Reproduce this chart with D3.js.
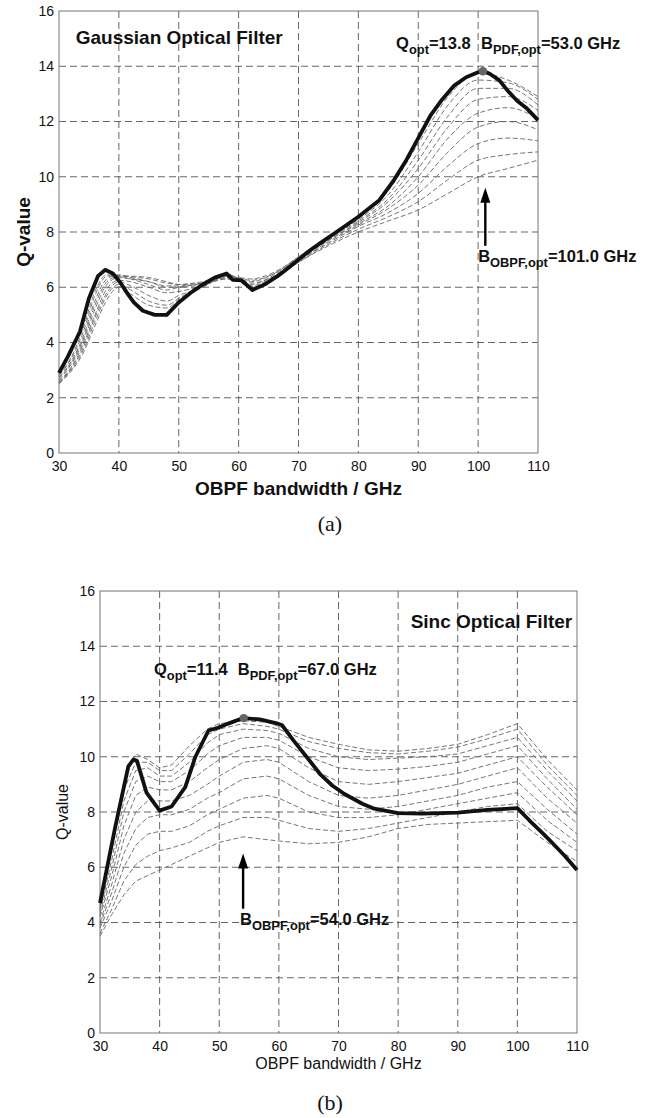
<!DOCTYPE html>
<html>
<head>
<meta charset="utf-8">
<script src="https://cdn.jsdelivr.net/npm/d3@7"></script>
<style>
  body { margin: 0; background: #fff; }
  svg { display: block; }
  text { font-family: "Liberation Sans", Arial, Helvetica, sans-serif; fill: #111; }
</style>
</head>
<body>
<div id="chart"></div>
<script>
const xTicks = [30, 40, 50, 60, 70, 80, 90, 100, 110];
const yTicks = [0, 2, 4, 6, 8, 10, 12, 14, 16];

// (a) Gaussian filter - optimum curve
const gaussBestX = [30, 31.5, 33.5, 35, 36.5, 37.7, 39, 40.2, 41.5, 42.5, 44, 46, 48, 50, 52, 54, 56, 58, 59, 60.5, 62.3, 64.5, 66.5, 68, 70, 72, 74, 77, 80, 83.5, 86, 88, 90, 92, 94, 96, 98, 100, 101, 102, 103.5, 105, 106.5, 108, 110];
const gaussBestQ = [2.9, 3.5, 4.4, 5.6, 6.4, 6.63, 6.5, 6.18, 5.75, 5.45, 5.15, 5.0, 5.0, 5.45, 5.8, 6.1, 6.35, 6.5, 6.27, 6.25, 5.9, 6.12, 6.4, 6.65, 7.0, 7.35, 7.65, 8.1, 8.55, 9.15, 9.9, 10.6, 11.4, 12.2, 12.8, 13.3, 13.6, 13.78, 13.82, 13.72, 13.5, 13.1, 12.75, 12.5, 12.05];

// (a) Gaussian filter - other PDF bandwidths
const gaussGridX = [30, 32, 34, 36, 38, 40, 42, 45, 48, 50, 54, 58, 60, 62, 66, 70, 75, 80, 85, 90, 95, 100, 105, 110];
const gaussRuns = [
  [2.85, 3.45, 4.5, 5.85, 6.45, 6.4, 6.3, 6.1, 5.9, 6.0, 6.15, 6.45, 6.35, 6.25, 6.5, 7.1, 7.85, 8.5, 9.5, 11.2, 12.9, 13.75, 13.5, 12.9],
  [2.8, 3.4, 4.35, 5.7, 6.4, 6.42, 6.35, 6.2, 6.05, 6.05, 6.15, 6.4, 6.35, 6.3, 6.55, 7.1, 7.8, 8.45, 9.35, 10.9, 12.6, 13.5, 13.4, 12.8],
  [2.75, 3.3, 4.2, 5.5, 6.3, 6.45, 6.38, 6.3, 6.15, 6.1, 6.2, 6.35, 6.3, 6.2, 6.5, 7.05, 7.75, 8.4, 9.2, 10.6, 12.2, 13.2, 13.2, 12.6],
  [2.7, 3.25, 4.1, 5.35, 6.2, 6.4, 6.4, 6.35, 6.2, 6.1, 6.15, 6.3, 6.25, 6.1, 6.45, 7.0, 7.7, 8.35, 9.1, 10.3, 11.8, 12.8, 12.9, 12.4],
  [2.65, 3.2, 4.0, 5.2, 6.1, 6.35, 6.3, 6.2, 6.0, 6.0, 6.1, 6.3, 6.3, 6.15, 6.4, 7.0, 7.7, 8.3, 8.95, 10.0, 11.4, 12.3, 12.5, 12.1],
  [2.6, 3.1, 3.9, 5.0, 5.95, 6.25, 6.2, 6.0, 5.8, 5.85, 6.05, 6.35, 6.3, 6.05, 6.4, 6.95, 7.65, 8.25, 8.85, 9.7, 10.9, 11.8, 12.0, 11.7],
  [2.55, 3.05, 3.8, 4.9, 5.8, 6.2, 6.05, 5.7, 5.5, 5.7, 6.0, 6.4, 6.3, 6.0, 6.35, 6.95, 7.6, 8.2, 8.7, 9.4, 10.4, 11.2, 11.4, 11.3],
  [2.55, 3.0, 3.7, 4.75, 5.7, 6.1, 5.9, 5.5, 5.35, 5.6, 6.05, 6.45, 6.3, 6.0, 6.3, 6.9, 7.55, 8.1, 8.55, 9.1, 9.9, 10.6, 10.8, 10.9],
  [2.5, 2.95, 3.6, 4.6, 5.55, 6.0, 5.75, 5.35, 5.25, 5.55, 6.0, 6.5, 6.25, 5.95, 6.3, 6.9, 7.5, 8.0, 8.4, 8.8, 9.4, 10.0, 10.3, 10.6]
];

// (b) Sinc filter - optimum curve
const sincBestX = [30, 32.5, 34.75, 35.6, 36.2, 37.8, 40, 42, 44.3, 46, 48.2, 49.8, 51.5, 54, 56.8, 59.5, 60.5, 62.4, 65, 67, 69, 71, 74, 76, 80, 84, 90, 95, 100, 102, 104.4, 106, 108, 110];
const sincBestQ = [4.7, 7.4, 9.65, 9.9, 9.85, 8.7, 8.05, 8.2, 8.9, 10.0, 10.95, 11.05, 11.2, 11.4, 11.35, 11.22, 11.15, 10.6, 9.9, 9.35, 8.95, 8.65, 8.3, 8.12, 7.96, 7.94, 7.98, 8.08, 8.14, 7.7, 7.2, 6.85, 6.4, 5.9];

// (b) Sinc filter - other PDF bandwidths
const sincGridX = [30, 32, 34, 36, 38, 40, 42, 45, 48, 50, 54, 58, 60, 65, 70, 75, 80, 85, 90, 95, 100, 105, 110];
const sincRuns = [
  [4.6, 7.0, 9.1, 10.1, 9.9, 9.6, 9.7, 10.4, 11.0, 11.2, 11.3, 11.25, 11.1, 10.7, 10.45, 10.25, 10.2, 10.3, 10.45, 10.8, 11.2, 9.9, 8.8],
  [4.5, 6.7, 8.8, 9.8, 9.8, 9.5, 9.5, 10.1, 10.8, 11.0, 11.2, 11.1, 11.0, 10.55, 10.3, 10.15, 10.1, 10.2, 10.35, 10.65, 11.0, 9.7, 8.6],
  [4.4, 6.3, 8.4, 9.5, 9.6, 9.3, 9.3, 9.8, 10.5, 10.8, 11.0, 10.95, 10.85, 10.3, 10.0, 9.9, 9.95, 10.0, 10.1, 10.4, 10.7, 9.5, 8.4],
  [4.3, 6.0, 8.0, 9.1, 9.3, 9.1, 9.1, 9.5, 10.1, 10.4, 10.7, 10.7, 10.6, 10.0, 9.6, 9.5, 9.55, 9.65, 9.8, 10.1, 10.4, 9.2, 8.1],
  [4.2, 5.7, 7.5, 8.6, 8.9, 8.8, 8.8, 9.1, 9.6, 9.9, 10.3, 10.4, 10.3, 9.6, 9.1, 9.0, 9.1, 9.25, 9.4, 9.7, 10.0, 8.9, 7.9],
  [4.0, 5.4, 7.0, 8.0, 8.4, 8.4, 8.4, 8.6, 9.0, 9.3, 9.8, 9.9, 9.8, 9.1, 8.6, 8.5, 8.6, 8.8, 9.0, 9.3, 9.6, 8.5, 7.6],
  [3.9, 5.1, 6.5, 7.4, 7.8, 7.9, 7.9, 8.1, 8.5, 8.7, 9.2, 9.3, 9.2, 8.6, 8.2, 8.1, 8.2, 8.4, 8.6, 8.9, 9.1, 8.1, 7.2],
  [3.8, 4.8, 6.0, 6.8, 7.2, 7.3, 7.3, 7.5, 7.9, 8.1, 8.5, 8.6, 8.5, 8.0, 7.8, 7.8, 7.9, 8.1, 8.3, 8.5, 8.7, 7.7, 6.9],
  [3.6, 4.5, 5.5, 6.1, 6.4, 6.6, 6.7, 6.9, 7.3, 7.5, 7.8, 7.8, 7.7, 7.4, 7.3, 7.4, 7.6, 7.8, 8.0, 8.2, 8.3, 7.3, 6.6],
  [3.5, 4.3, 5.0, 5.5, 5.7, 5.9, 6.1, 6.4, 6.7, 6.9, 7.1, 7.0, 6.95, 6.85, 6.9, 7.1, 7.4, 7.55, 7.6, 7.65, 7.7, 6.9, 6.2]
];

const W = 656, H = 1118;
const svg = d3.select('#chart').append('svg')
  .attr('width', W)
  .attr('height', H)
  .attr('viewBox', `0 0 ${W} ${H}`);

// writes a label made of normal and subscript pieces
function subText(g, x, y, size, weight, parts, anchor) {
  const t = g.append('text')
    .attr('x', x).attr('y', y)
    .attr('font-size', size)
    .attr('font-weight', weight)
    .attr('text-anchor', anchor || 'start')
    .style('white-space', 'pre');
  let shift = 0;
  parts.forEach(([str, sub]) => {
    const want = sub ? 5 : 0;
    t.append('tspan')
      .attr('dy', want - shift)
      .attr('font-size', sub ? size * 0.78 : size)
      .text(str);
    shift = want;
  });
  return t;
}

function drawPanel(p) {
  const x = d3.scaleLinear().domain([30, 110]).range([p.left, p.right]);
  const y = d3.scaleLinear().domain([0, 16]).range([p.bottom, p.top]);
  const g = svg.append('g');

  // grid
  g.selectAll('.vgrid')
    .data(xTicks.slice(1, -1))
    .enter().append('line')
    .attr('x1', d => x(d)).attr('x2', d => x(d))
    .attr('y1', p.top).attr('y2', p.bottom)
    .attr('stroke', '#555').attr('stroke-width', 0.9)
    .attr('stroke-dasharray', '7,4');
  g.selectAll('.hgrid')
    .data(yTicks.slice(1, -1))
    .enter().append('line')
    .attr('x1', p.left).attr('x2', p.right)
    .attr('y1', d => y(d)).attr('y2', d => y(d))
    .attr('stroke', '#555').attr('stroke-width', 0.9)
    .attr('stroke-dasharray', '7,4');

  // axes
  const xAxis = g.append('g')
    .attr('transform', `translate(0,${p.bottom})`)
    .call(d3.axisBottom(x).tickValues(xTicks).tickSize(0).tickPadding(8));
  const yAxis = g.append('g')
    .attr('transform', `translate(${p.left},0)`)
    .call(d3.axisLeft(y).tickValues(yTicks).tickSize(0).tickPadding(5));
  [xAxis, yAxis].forEach(a => {
    a.select('.domain').remove();
    a.selectAll('text')
      .attr('font-family', '"Liberation Sans", Arial, sans-serif')
      .attr('font-size', 14)
      .attr('fill', '#111');
  });

  g.append('rect')
    .attr('x', p.left).attr('y', p.top)
    .attr('width', p.right - p.left).attr('height', p.bottom - p.top)
    .attr('fill', 'none').attr('stroke', '#777').attr('stroke-width', 1);

  // grey dashed runs
  const runLine = d3.line()
    .x((d, i) => x(p.gridX[i]))
    .y(d => y(d))
    .curve(p.runCurve);
  g.selectAll('.run')
    .data(p.runs)
    .enter().append('path')
    .attr('d', runLine)
    .attr('fill', 'none')
    .attr('stroke', '#666')
    .attr('stroke-width', 0.9)
    .attr('stroke-dasharray', '5,2.5');

  // optimum curve
  const bestLine = d3.line()
    .x((d, i) => x(p.bestX[i]))
    .y(d => y(d));
  g.append('path')
    .datum(p.bestQ)
    .attr('d', bestLine)
    .attr('fill', 'none')
    .attr('stroke', '#111')
    .attr('stroke-width', 3.8)
    .attr('stroke-linejoin', 'round');

  // optimum marker
  g.append('circle')
    .attr('cx', x(p.peak[0])).attr('cy', y(p.peak[1]))
    .attr('r', 4.2).attr('fill', '#666');

  // arrow
  const ax = x(p.arrow[0]);
  g.append('line')
    .attr('x1', ax).attr('x2', ax)
    .attr('y1', y(p.arrow[1])).attr('y2', y(p.arrow[2]) + 12)
    .attr('stroke', '#000').attr('stroke-width', 2.4);
  const tip = y(p.arrow[2]);
  g.append('path')
    .attr('d', `M${ax},${tip}L${ax - 5},${tip + 15}L${ax + 5},${tip + 15}Z`)
    .attr('fill', '#000');

  // axis labels
  g.append('text')
    .attr('x', (p.left + p.right) / 2).attr('y', p.xLabelY)
    .attr('text-anchor', 'middle')
    .attr('font-size', p.labelSize).attr('font-weight', p.labelWeight)
    .text('OBPF bandwidth / GHz');
  g.append('text')
    .attr('transform', `translate(${p.yLabelX},${(p.top + p.bottom) / 2}) rotate(-90)`)
    .attr('text-anchor', 'middle')
    .attr('font-size', p.labelSize).attr('font-weight', p.labelWeight)
    .text('Q-value');

  // annotations
  g.append('text')
    .attr('x', x(p.title[0])).attr('y', y(p.title[1]))
    .attr('text-anchor', p.title[2])
    .attr('font-size', 19).attr('font-weight', 'bold')
    .text(p.titleText);
  subText(g, x(p.qLab[0]), y(p.qLab[1]), 16.5, 'bold', [['Q'], ['opt', true], [`=${p.qOpt}`]]);
  subText(g, x(p.pdfLab[0]), y(p.qLab[1]), 16.5, 'bold', [['B'], ['PDF,opt', true], [`=${p.pdfOpt} GHz`]]);
  subText(g, x(p.obpfLab[0]), y(p.obpfLab[1]), 16.5, 'bold', [['B'], ['OBPF,opt', true], [`=${p.obpfOpt} GHz`]]);

  // caption
  svg.append('text')
    .attr('x', 330).attr('y', p.captionY)
    .attr('text-anchor', 'middle')
    .attr('font-size', 22)
    .style('font-family', '"Liberation Serif", "DejaVu Serif", serif')
    .text(p.caption);
}

drawPanel({
  left: 59, right: 538, top: 11, bottom: 453,
  gridX: gaussGridX, runs: gaussRuns, runCurve: d3.curveMonotoneX,
  bestX: gaussBestX, bestQ: gaussBestQ,
  peak: [100.8, 13.82], arrow: [101.2, 7.5, 9.6],
  titleText: 'Gaussian Optical Filter', title: [32.8, 14.8, 'start'],
  qLab: [86.3, 14.64], pdfLab: [100.5], obpfLab: [100.0, 6.9],
  qOpt: '13.8', pdfOpt: '53.0', obpfOpt: '101.0',
  labelSize: 19, labelWeight: 'bold', xLabelY: 495, yLabelX: 30,
  caption: '(a)', captionY: 531
});

drawPanel({
  left: 100, right: 577, top: 591, bottom: 1033,
  gridX: sincGridX, runs: sincRuns, runCurve: d3.curveLinear,
  bestX: sincBestX, bestQ: sincBestQ,
  peak: [54.1, 11.4], arrow: [54.0, 4.5, 6.5],
  titleText: 'Sinc Optical Filter', title: [109.2, 14.67, 'end'],
  qLab: [39.06, 12.97], pdfLab: [53.1], obpfLab: [53.5, 3.9],
  qOpt: '11.4', pdfOpt: '67.0', obpfOpt: '54.0',
  labelSize: 16, labelWeight: 'normal', xLabelY: 1069, yLabelX: 68,
  caption: '(b)', captionY: 1110
});
</script>
</body>
</html>
